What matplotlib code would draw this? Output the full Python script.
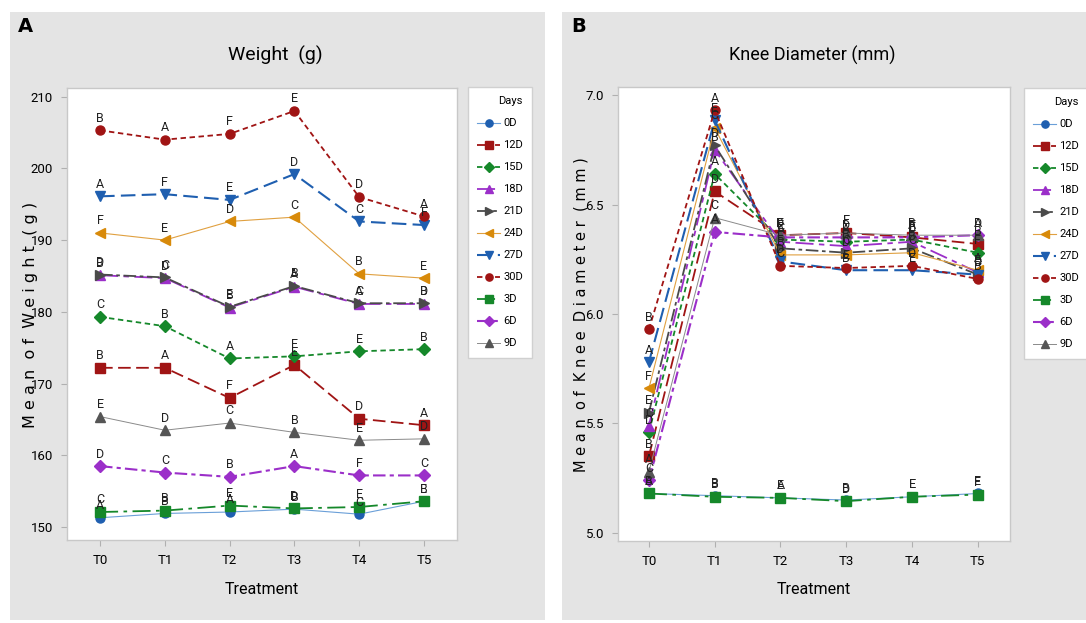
import matplotlib
matplotlib.use("Agg")
import matplotlib.pyplot as plt

plt.rcParams['font.family'] = ['Liberation Sans Narrow', 'DejaVu Sans Condensed', 'Roboto', 'DejaVu Sans']

treatments = ["T0", "T1", "T2", "T3", "T4", "T5"]
days = ["0D", "12D", "15D", "18D", "21D", "24D", "27D", "30D", "3D", "6D", "9D"]

# Weight (g)
w_0D = [151.3, 151.9, 152.1, 152.5, 151.8, 153.6]
w_12D = [172.2, 172.2, 168.0, 172.6, 165.1, 164.2]
w_15D = [179.3, 178.0, 173.5, 173.8, 174.5, 174.8]
w_18D = [185.1, 184.7, 180.6, 183.5, 181.1, 181.1]
w_21D = [185.2, 184.8, 180.7, 183.6, 181.2, 181.2]
w_24D = [191.0, 190.0, 192.6, 193.2, 185.3, 184.7]
w_27D = [196.1, 196.4, 195.6, 199.2, 192.6, 192.1]
w_30D = [205.3, 204.0, 204.8, 208.0, 196.0, 193.3]
w_3D = [152.1, 152.3, 153.0, 152.6, 152.8, 153.6]
w_6D = [158.5, 157.6, 157.0, 158.5, 157.2, 157.2]
w_9D = [165.4, 163.5, 164.5, 163.2, 162.1, 162.3]

w_let_0D = ["A", "B", "A", "B", "C", "B"]
w_let_12D = ["B", "A", "F", "E", "D", "A"]
w_let_15D = ["C", "B", "A", "E", "E", "B"]
w_let_18D = ["B", "D", "B", "A", "A", "D"]
w_let_21D = ["D", "C", "E", "B", "C", "B"]
w_let_24D = ["F", "E", "D", "C", "B", "E"]
w_let_27D = ["A", "F", "E", "D", "C", "F"]
w_let_30D = ["B", "A", "F", "E", "D", "A"]
w_let_3D = ["C", "B", "E", "D", "E", "E"]
w_let_6D = ["D", "C", "B", "A", "F", "C"]
w_let_9D = ["E", "D", "C", "B", "E", "D"]

# Knee diameter (mm)
k_0D = [5.18, 5.17, 5.16, 5.15, 5.165, 5.18]
k_12D = [5.35, 6.56, 6.36, 6.37, 6.35, 6.32]
k_15D = [5.46, 6.64, 6.34, 6.33, 6.34, 6.28]
k_18D = [5.49, 6.75, 6.33, 6.31, 6.33, 6.19]
k_21D = [5.55, 6.77, 6.30, 6.28, 6.30, 6.18]
k_24D = [5.66, 6.85, 6.27, 6.27, 6.28, 6.20]
k_27D = [5.78, 6.885, 6.24, 6.20, 6.20, 6.18]
k_30D = [5.93, 6.93, 6.22, 6.21, 6.22, 6.16]
k_3D = [5.18, 5.165, 5.16, 5.145, 5.165, 5.175]
k_6D = [5.24, 6.375, 6.35, 6.35, 6.35, 6.36]
k_9D = [5.28, 6.44, 6.36, 6.37, 6.36, 6.36]

k_let_0D = ["B", "B", "E", "B", "E", "E"]
k_let_12D = ["B", "D", "F", "E", "A", "B"]
k_let_15D = ["D", "A", "C", "A", "E", "F"]
k_let_18D = ["C", "B", "A", "B", "D", "E"]
k_let_21D = ["E", "D", "E", "C", "B", "C"]
k_let_24D = ["F", "C", "B", "D", "C", "A"]
k_let_27D = ["A", "E", "D", "B", "E", "D"]
k_let_30D = ["B", "A", "C", "E", "D", "B"]
k_let_3D = ["A", "B", "A", "D", "E", "F"]
k_let_6D = ["C", "A", "E", "D", "F", "A"]
k_let_9D = ["A", "C", "D", "F", "B", "D"]

weight = [w_0D, w_12D, w_15D, w_18D, w_21D, w_24D, w_27D, w_30D, w_3D, w_6D, w_9D]
weight_let = [w_let_0D, w_let_12D, w_let_15D, w_let_18D, w_let_21D, w_let_24D,
              w_let_27D, w_let_30D, w_let_3D, w_let_6D, w_let_9D]
knee = [k_0D, k_12D, k_15D, k_18D, k_21D, k_24D, k_27D, k_30D, k_3D, k_6D, k_9D]
knee_let = [k_let_0D, k_let_12D, k_let_15D, k_let_18D, k_let_21D, k_let_24D,
            k_let_27D, k_let_30D, k_let_3D, k_let_6D, k_let_9D]

styles = {
    "0D":  dict(color="#6a9fd8", mfc="#1f5fb0", mec="#1f5fb0", marker="o", ls="-", lw=0.8),
    "12D": dict(color="#a01414", mfc="#a01414", mec="#a01414", marker="s", ls=(0, (7, 3)), lw=1.3),
    "15D": dict(color="#15882a", mfc="#15882a", mec="#15882a", marker="D", ls=(0, (3, 2)), lw=1.3),
    "18D": dict(color="#9b2fc9", mfc="#9b2fc9", mec="#9b2fc9", marker="^", ls=(0, (10, 3, 3, 3)), lw=1.3),
    "21D": dict(color="#4a4a4a", mfc="#4a4a4a", mec="#4a4a4a", marker=">", ls=(0, (7, 2, 2, 2)), lw=1.3),
    "24D": dict(color="#e0a040", mfc="#d88a0a", mec="#d88a0a", marker="<", ls="-", lw=0.8),
    "27D": dict(color="#1f5fb0", mfc="#1f5fb0", mec="#1f5fb0", marker="v", ls=(0, (7, 3)), lw=1.5),
    "30D": dict(color="#a01414", mfc="#a01414", mec="#a01414", marker="o", ls=(0, (3, 2)), lw=1.3),
    "3D":  dict(color="#15882a", mfc="#15882a", mec="#15882a", marker="s", ls=(0, (10, 3, 2, 3)), lw=1.3),
    "6D":  dict(color="#9b2fc9", mfc="#9b2fc9", mec="#9b2fc9", marker="D", ls=(0, (6, 2, 2, 2)), lw=1.5),
    "9D":  dict(color="#8a8a8a", mfc="#555555", mec="#555555", marker="^", ls="-", lw=0.7),
}

W, H = 1086, 623
fig = plt.figure(figsize=(W / 100, H / 100), dpi=100)
fig.patch.set_facecolor("white")

def px_rect(x0, y0, x1, y1):
    return [x0 / W, 1 - y1 / H, (x1 - x0) / W, (y1 - y0) / H]

# Gray panels (background axes)
for (x0, y0, x1, y1) in [(10, 12, 545, 620), (562, 12, 1086, 620)]:
    bg = fig.add_axes(px_rect(x0, y0, x1, y1), zorder=-10)
    bg.set_facecolor("#e4e4e4")
    bg.set_xticks([])
    bg.set_yticks([])
    for sp in bg.spines.values():
        sp.set_visible(False)

fig.text(18 / W, 1 - 26 / H, "A", fontsize=14, fontweight="bold", family="DejaVu Sans",
         va="center", ha="left")
fig.text(571 / W, 1 - 26 / H, "B", fontsize=14, fontweight="bold", family="DejaVu Sans",
         va="center", ha="left")

def draw_panel(rect, data, letters, ylim, yticks, yfmt, xlim, title, title_x, title_fs,
               ylabel, ylabel_x, ylabel_fs, leg_xy, letter_off):
    ax = fig.add_axes(px_rect(*rect), zorder=1)
    ax.set_facecolor("white")
    x = list(range(len(treatments)))
    handles = []
    for name, vals, lets in zip(days, data, letters):
        s = styles[name]
        ln, = ax.plot(x, vals, color=s["color"], ls=s["ls"], lw=s["lw"], marker=s["marker"],
                      ms=6.5, mfc=s["mfc"], mec=s["mec"], zorder=3)
        handles.append(ln)
        for xi, v, l in zip(x, vals, lets):
            ax.annotate(l, (xi, v), xytext=(0, letter_off), textcoords="offset points",
                        ha="center", va="bottom", fontsize=9, color="#222222", zorder=4)
    ax.set_xlim(*xlim)
    ax.set_ylim(*ylim)
    ax.set_xticks(x)
    ax.set_xticklabels(treatments, fontsize=9.5)
    ax.set_yticks(yticks)
    ax.set_yticklabels([yfmt.format(t) for t in yticks], fontsize=9.5)
    for sp in ax.spines.values():
        sp.set_color("#c8c8c8")
        sp.set_linewidth(1.0)
    ax.tick_params(axis="both", direction="out", length=4, color="#b0b0b0", pad=6)
    fig.text(title_x / W, 1 - 55 / H, title, fontsize=title_fs, ha="center", va="center")
    xc = (rect[0] + rect[2]) / 2
    fig.text(xc / W, 1 - 589 / H, "Treatment", fontsize=11.5, ha="center", va="center")
    fig.text(ylabel_x / W, 1 - 315 / H, ylabel, fontsize=ylabel_fs,
             rotation=90, ha="center", va="center", family="DejaVu Sans")
    leg = fig.legend(handles, days, loc="upper left",
                     bbox_to_anchor=(leg_xy[0] / W, 1 - leg_xy[1] / H),
                     bbox_transform=fig.transFigure, frameon=True, fancybox=False,
                     edgecolor="#d0d0d0", framealpha=1, fontsize=8, title="Days",
                     title_fontsize=8, handlelength=2.0, handletextpad=0.3,
                     labelspacing=1.08, borderpad=0.85, borderaxespad=0, markerscale=0.8)
    leg._legend_box.align = "right"
    leg.set_zorder(5)
    return ax

draw_panel((67, 88, 457, 540), weight, weight_let, (148.2, 211.2), [150, 160, 170, 180, 190, 200, 210],
           "{:.0f}", (-0.51, 5.51), "Weight  (g)", 275, 14,
           "M e a n  o f  W e i g h t  ( g )", 31, 11.5, (468, 87), 4)

draw_panel((618, 87, 1010, 541), knee, knee_let, (4.963, 7.037), [5.0, 5.5, 6.0, 6.5, 7.0],
           "{:.1f}", (-0.47, 5.49), "Knee Diameter (mm)", 812, 13,
           "M e a n  o f  K n e e  D i a m e t e r  ( m m )", 581, 10.5, (1024, 88), 4)

fig.savefig("out.png", dpi=100, facecolor="white")
